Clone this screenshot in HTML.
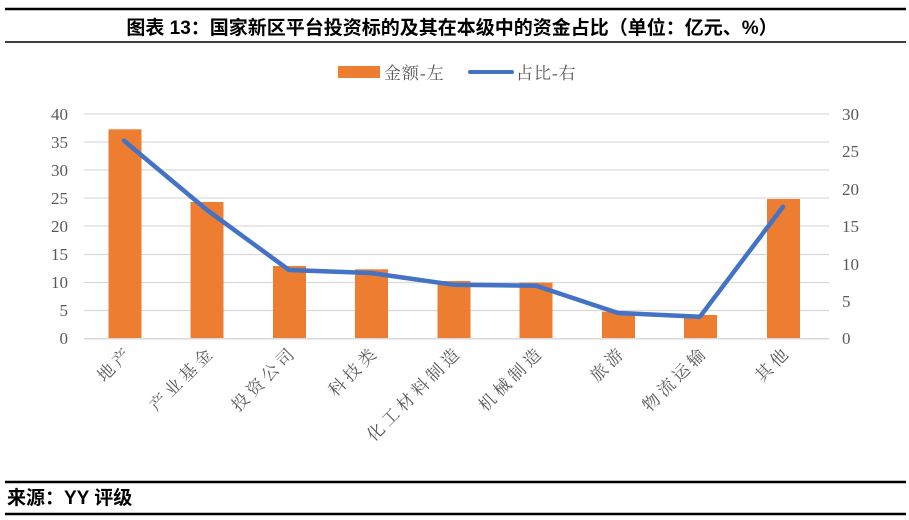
<!DOCTYPE html>
<html><head><meta charset="utf-8"><style>
body{margin:0;background:#fff;width:909px;height:520px;overflow:hidden}
svg{display:block}
</style></head><body>
<svg width="909" height="520" xmlns="http://www.w3.org/2000/svg">
<line x1="5" y1="9" x2="906" y2="9" stroke="#000" stroke-width="2.5"/>
<text x="452" y="34" text-anchor="middle" font-family="Liberation Sans, Noto Sans CJK SC, sans-serif" font-weight="bold" font-size="19" fill="#000">图表 13：国家新区平台投资标的及其在本级中的资金占比（单位：亿元、%）</text>
<line x1="5" y1="42" x2="906" y2="42" stroke="#000" stroke-width="1.5"/>
<rect x="338" y="66" width="42" height="12" fill="#ED7D31"/>
<text x="384" y="79" font-family="Liberation Serif, Noto Serif CJK SC, serif" font-size="17" letter-spacing="1" fill="#595959">金额-左</text>
<line x1="470" y1="72" x2="512" y2="72" stroke="#4472C4" stroke-width="4" stroke-linecap="round"/>
<text x="516" y="79" font-family="Liberation Serif, Noto Serif CJK SC, serif" font-size="17" letter-spacing="1" fill="#595959">占比-右</text>
<g stroke="#D9D9D9" stroke-width="1.3">
<line x1="84" y1="114" x2="829" y2="114"/><line x1="84" y1="142" x2="829" y2="142"/>
<line x1="84" y1="170" x2="829" y2="170"/><line x1="84" y1="198" x2="829" y2="198"/>
<line x1="84" y1="226" x2="829" y2="226"/><line x1="84" y1="254.5" x2="829" y2="254.5"/>
<line x1="84" y1="282.5" x2="829" y2="282.5"/><line x1="84" y1="310.5" x2="829" y2="310.5"/>
</g>
<g font-family="Liberation Serif, serif" font-size="17" fill="#595959" text-anchor="end">
<text x="68" y="120">40</text><text x="68" y="148">35</text><text x="68" y="176">30</text>
<text x="68" y="204">25</text><text x="68" y="232">20</text><text x="68" y="260">15</text>
<text x="68" y="288">10</text><text x="68" y="316">5</text><text x="68" y="344">0</text>
</g>
<g font-family="Liberation Serif, serif" font-size="17" fill="#595959" text-anchor="start">
<text x="842" y="120">30</text><text x="842" y="157">25</text><text x="842" y="195">20</text>
<text x="842" y="232">15</text><text x="842" y="270">10</text><text x="842" y="307">5</text>
<text x="842" y="344">0</text>
</g>
<g fill="#ED7D31">
<rect x="108.5" y="129.3" width="33" height="209"/>
<rect x="190.5" y="202" width="33" height="136.5"/>
<rect x="273" y="266" width="33" height="72.5"/>
<rect x="355" y="269.3" width="33" height="69.2"/>
<rect x="437.5" y="281" width="33" height="57.5"/>
<rect x="519.5" y="282.7" width="33" height="55.8"/>
<rect x="602" y="311.7" width="33" height="26.8"/>
<rect x="684" y="315" width="33" height="23.5"/>
<rect x="767" y="199" width="33" height="139.5"/>
</g>
<line x1="84" y1="338.7" x2="829" y2="338.7" stroke="#D9D9D9" stroke-width="1.5"/>
<polyline fill="none" stroke="#4472C4" stroke-width="4.5" stroke-linejoin="round" stroke-linecap="round" points="124,140.7 207,210 289,270 371,273 453,284.7 536,285.7 618,313 700,316.7 783,206.7"/>
<g font-family="Liberation Serif, Noto Serif CJK SC, serif" font-size="17" letter-spacing="4" fill="#595959" text-anchor="end">
<text transform="translate(134,353) rotate(-45)">地产</text>
<text transform="translate(216,353) rotate(-45)">产业基金</text>
<text transform="translate(298,353) rotate(-45)">投资公司</text>
<text transform="translate(380,353) rotate(-45)">科技类</text>
<text transform="translate(463,353) rotate(-45)">化工材料制造</text>
<text transform="translate(545,353) rotate(-45)">机械制造</text>
<text transform="translate(627,353) rotate(-45)">旅游</text>
<text transform="translate(709,353) rotate(-45)">物流运输</text>
<text transform="translate(792,353) rotate(-45)">其他</text>
</g>
<line x1="5" y1="482" x2="906" y2="482" stroke="#000" stroke-width="2.5"/>
<text x="7" y="504" font-family="Liberation Sans, Noto Sans CJK SC, sans-serif" font-weight="bold" font-size="19" fill="#000">来源：YY 评级</text>
<line x1="5" y1="514" x2="906" y2="514" stroke="#000" stroke-width="2.5"/>
</svg>
</body></html>
